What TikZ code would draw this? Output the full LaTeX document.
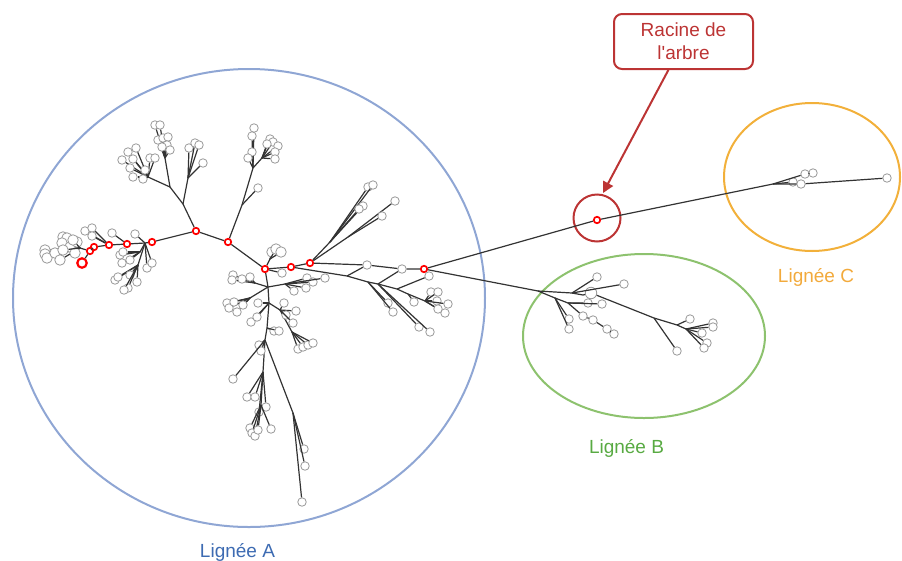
\documentclass[tikz,border=0pt]{standalone}
\usepackage{fontspec}
\setmainfont{Liberation Sans}
\usetikzlibrary{arrows.meta,positioning}
\definecolor{ringA}{RGB}{143,166,212}
\definecolor{textA}{RGB}{61,107,178}
\definecolor{ringB}{RGB}{141,194,110}
\definecolor{textB}{RGB}{88,170,66}
\definecolor{ringC}{RGB}{242,176,58}
\definecolor{textC}{RGB}{242,170,60}
\definecolor{rootred}{RGB}{188,52,52}
\begin{document}
\begin{tikzpicture}[x=1pt,y=-1pt,
  leaf/.style={circle,draw=black!40,fill=white,line width=.8pt,inner sep=0pt,minimum size=8.5pt},
  bigleaf/.style={leaf,minimum size=10.5pt},
  hit/.style={circle,draw=red,fill=white,line width=1.7pt,inner sep=0pt,minimum size=6.5pt},
  edge/.style={draw=black!80,line width=1.2pt},
  ring/.style={circle,draw=rootred,line width=2pt,inner sep=0pt,minimum size=47pt},
  lbl/.style={font=\fontsize{19}{23}\selectfont,anchor=base}]
\useasboundingbox (0,0) rectangle (902,560);
\draw[line width=2pt,ringA] (249,298) ellipse [x radius=236,y radius=229];
\draw[line width=2pt,ringB] (644,336) ellipse [x radius=121,y radius=82];
\draw[line width=2pt,ringC] (812,177) ellipse [x radius=88,y radius=74];
\node[lbl,text=textA] (labA) at (237.5,557) {Lignée A};
\node[lbl,text=textB] (labB) at (626.5,453) {Lignée B};
\node[lbl,text=textC] (labC) at (816,282) {Lignée C};
\node[hit] (root) at (597,220) {};
\node[ring] (rootring) at (597,218) {};
\node[draw=rootred,line width=2pt,rounded corners=8pt,minimum width=139pt,minimum height=55pt,
  align=center,text=rootred,font=\fontsize{19}{23}\selectfont] (callout) at (683.5,41.5) {Racine de\\l\textquotesingle arbre};
\coordinate (tip) at (603,193);
\draw[rootred,line width=2pt,-{Triangle[length=11pt,width=11pt]}] (callout) -- (tip);
\node[hit] (r1) at (424,269) {};
\node[hit] (r2) at (310,263) {};
\node[hit] (r3) at (291,267) {};
\node[hit] (r4) at (265,269) {};
\node[hit] (r5) at (228,242) {};
\node[hit] (r6) at (196,231) {};
\node[hit] (r7) at (152,242) {};
\node[hit] (r8) at (127,244) {};
\node[hit] (r9) at (109,245) {};
\node[hit] (r10) at (94,247) {};
\node[hit] (r11) at (90,251) {};
\node[hit,minimum size=9.5pt,line width=2.2pt] (r12) at (82,263) {};
\node[leaf] (a1) at (402,269) {};
\node[leaf] (a2) at (367,265) {};
\coordinate (k0) at (145,243);
\draw[edge] (root) -- (r1) -- (a1) -- (a2) -- (r2) -- (r3) -- (r4) -- (r5) -- (r6) -- (r7) -- (k0) -- (r8) -- (r9) -- (r10) -- (r11) -- (r12);
\coordinate (c0) at (773,184);
\node[leaf] (c1) at (793,182) {};
\node[leaf] (c2) at (801,184) {};
\node[leaf] (c3) at (805,174) {};
\node[leaf] (c4) at (813,173) {};
\node[leaf] (c5) at (887,178) {};
\draw[edge] (root) -- (c0) -- (c1);
\draw[edge] (c0) -- (c3) -- (c4);
\draw[edge] (c0) -- (c2) -- (c5);
\coordinate (b0) at (538,291);
\coordinate (b1) at (572,293);
\coordinate (b3) at (583,295);
\coordinate (b6) at (555,298);
\coordinate (b9) at (568,303);
\coordinate (b17) at (654,318);
\coordinate (b19) at (677,325);
\coordinate (b21) at (686,329);
\node[leaf] (b2) at (597,277) {};
\node[bigleaf,minimum size=11.5pt] (b4) at (591,293) {};
\node[leaf] (b5) at (624,284) {};
\node[leaf] (b7) at (569,319) {};
\node[leaf] (b8) at (569,329) {};
\node[leaf] (b10) at (588,303) {};
\node[leaf] (b11) at (602,304) {};
\node[leaf] (b13) at (583,316) {};
\node[leaf] (b14) at (593,320) {};
\node[leaf] (b15) at (607,329) {};
\node[leaf] (b16) at (614,334) {};
\node[leaf] (b18) at (677,351) {};
\node[leaf] (b20) at (690,319) {};
\draw[edge] (r1) -- (b0) -- (b1) -- (b3) -- (b4) -- (b17) -- (b19) -- (b21);
\draw[edge] (b1) -- (b2);
\draw[edge] (b1) -- (b5);
\draw[edge] (b0) -- (b6) -- (b7);
\draw[edge] (b6) -- (b8);
\draw[edge] (b6) -- (b9) -- (b10);
\draw[edge] (b9) -- (b11);
\draw[edge] (b9) -- (b13) -- (b14) -- (b15) -- (b16);
\draw[edge] (b17) -- (b18);
\draw[edge] (b19) -- (b20);
\foreach \x/\y [count=\i] in {713/323,713/327,702/333,707/343,704/348}
  {\node[leaf] (bl\i) at (\x,\y) {}; \draw[edge] (b21) -- (bl\i);}
\coordinate (a3) at (347,276);
\coordinate (a4) at (368,282);
\coordinate (a5) at (378,284);
\coordinate (a6) at (397,289);
\coordinate (a12) at (408,294);
\coordinate (a13) at (425,301);
\coordinate (a14) at (330,242);
\coordinate (a15) at (348,237);
\coordinate (a16) at (270,259);
\node[leaf] (a7) at (429,276) {};
\draw[edge] (r3) -- (a3) -- (a4) -- (a5) -- (a6) -- (a7);
\draw[edge] (a3) -- (a2);
\draw[edge] (a5) -- (a1);
\draw[edge] (a6) -- (a12) -- (a13);
\draw[edge] (r2) -- (a14);
\draw[edge] (r2) -- (a15);
\draw[edge] (r4) -- (a16);
\foreach \x/\y [count=\i] in {388/303,393/312}
  {\node[leaf] (a4l\i) at (\x,\y) {}; \draw[edge] (a4) -- (a4l\i);}
\foreach \x/\y [count=\i] in {419/327,430/332}
  {\node[leaf] (a5l\i) at (\x,\y) {}; \draw[edge] (a5) -- (a5l\i);}
\foreach \x/\y [count=\i] in {414/302}
  {\node[leaf] (a12l\i) at (\x,\y) {}; \draw[edge] (a12) -- (a12l\i);}
\foreach \x/\y [count=\i] in {431/292,438/292,437/301,448/304,445/313,438/309}
  {\node[leaf] (a13l\i) at (\x,\y) {}; \draw[edge] (a13) -- (a13l\i);}
\foreach \x/\y [count=\i] in {368/187,373/185,363/206,359/209}
  {\node[leaf] (a14l\i) at (\x,\y) {}; \draw[edge] (a14) -- (a14l\i);}
\foreach \x/\y [count=\i] in {395/201,382/216}
  {\node[leaf] (a15l\i) at (\x,\y) {}; \draw[edge] (a15) -- (a15l\i);}
\foreach \x/\y [count=\i] in {272/252,276/249,281/252}
  {\node[bigleaf] (a16l\i) at (\x,\y) {}; \draw[edge] (a16) -- (a16l\i);}
\node[leaf] (a17) at (282,273) {};
\draw[edge] (r4) -- (a17);
\coordinate (h0) at (268,287);
\coordinate (h1) at (255,283);
\coordinate (h2) at (250,298);
\coordinate (h3) at (285,284);
\coordinate (h4) at (269,303);
\coordinate (h6) at (280,310);
\coordinate (h7) at (292,332);
\coordinate (h8) at (267,328);
\coordinate (h9) at (265,340);
\coordinate (h10) at (263,372);
\coordinate (h11) at (261,405);
\coordinate (h12) at (288,400);
\coordinate (h13) at (293,413);
\draw[edge] (r4) -- (h0) -- (h4) -- (h8) -- (h9) -- (h10) -- (h11);
\draw[edge] (h0) -- (h1);
\draw[edge] (h0) -- (h2);
\draw[edge] (h0) -- (h3);
\draw[edge] (h4) -- (h6) -- (h7);
\draw[edge] (h9) -- (h12) -- (h13);
\foreach \x/\y [count=\i] in {233/275,232/280,242/279,250/277}
  {\node[leaf] (h1l\i) at (\x,\y) {}; \draw[edge] (h1) -- (h1l\i);}
\foreach \x/\y [count=\i] in {227/303,229/308,237/312,243/305,234/302}
  {\node[leaf] (h2l\i) at (\x,\y) {}; \draw[edge] (h2) -- (h2l\i);}
\foreach \x/\y [count=\i] in {307/278,313/282,325/278,306/288,294/291}
  {\node[leaf] (h3l\i) at (\x,\y) {}; \draw[edge] (h3) -- (h3l\i);}
\foreach \x/\y [count=\i] in {258/303,251/322,257/317}
  {\node[leaf] (h4l\i) at (\x,\y) {}; \draw[edge] (h4) -- (h4l\i);}
\foreach \x/\y [count=\i] in {284/303,296/311,286/315,293/323}
  {\node[leaf] (h6l\i) at (\x,\y) {}; \draw[edge] (h6) -- (h6l\i);}
\foreach \x/\y [count=\i] in {298/349,303/347,308/345,313/343}
  {\node[leaf] (h7l\i) at (\x,\y) {}; \draw[edge] (h7) -- (h7l\i);}
\foreach \x/\y [count=\i] in {274/331,279/331}
  {\node[leaf] (h8l\i) at (\x,\y) {}; \draw[edge] (h8) -- (h8l\i);}
\foreach \x/\y [count=\i] in {259/345,261/351,233/379}
  {\node[leaf] (h9l\i) at (\x,\y) {}; \draw[edge] (h9) -- (h9l\i);}
\foreach \x/\y [count=\i] in {247/397,255/397,266/407,259/412}
  {\node[leaf] (h10l\i) at (\x,\y) {}; \draw[edge] (h10) -- (h10l\i);}
\foreach \x/\y [count=\i] in {250/428,252/433,255/436,258/430,271/429}
  {\node[leaf] (h11l\i) at (\x,\y) {}; \draw[edge] (h11) -- (h11l\i);}
\foreach \x/\y [count=\i] in {304/449,305/466,302/502}
  {\node[leaf] (h13l\i) at (\x,\y) {}; \draw[edge] (h13) -- (h13l\i);}
\coordinate (u0) at (242,205);
\coordinate (u2) at (253,168);
\coordinate (u3) at (262,158);
\draw[edge] (r5) -- (u0) -- (u2) -- (u3);
\foreach \x/\y [count=\i] in {258/188}
  {\node[leaf] (u0l\i) at (\x,\y) {}; \draw[edge] (u0) -- (u0l\i);}
\foreach \x/\y [count=\i] in {254/128,252/136,252/152,248/158}
  {\node[leaf] (u2l\i) at (\x,\y) {}; \draw[edge] (u2) -- (u2l\i);}
\foreach \x/\y [count=\i] in {270/139,273/142,278/146,275/152,275/159,267/144}
  {\node[leaf] (u3l\i) at (\x,\y) {}; \draw[edge] (u3) -- (u3l\i);}
\coordinate (v0) at (183,204);
\coordinate (v1) at (170,187);
\coordinate (v2) at (165,158);
\coordinate (v3) at (148,177);
\coordinate (v4) at (188,178);
\draw[edge] (r6) -- (v0) -- (v1) -- (v2);
\draw[edge] (v1) -- (v3);
\draw[edge] (v0) -- (v4);
\foreach \x/\y [count=\i] in {155/125,160/125,158/140,163/138,168/137,167/145,170/150,162/147}
  {\node[leaf] (v2l\i) at (\x,\y) {}; \draw[edge] (v2) -- (v2l\i);}
\foreach \x/\y [count=\i] in {122/160,128/152,136/148,133/159,130/168,133/177,143/179,150/158,155/158,145/170}
  {\node[leaf] (v3l\i) at (\x,\y) {}; \draw[edge] (v3) -- (v3l\i);}
\foreach \x/\y [count=\i] in {189/148,195/143,199/145,203/163}
  {\node[leaf] (v4l\i) at (\x,\y) {}; \draw[edge] (v4) -- (v4l\i);}
\coordinate (k1) at (140,252);
\coordinate (k3) at (138,265);
\coordinate (k4) at (80,248);
\draw[edge] (k0) -- (k1);
\draw[edge] (k0) -- (k3);
\draw[edge] (r11) -- (k4);
\foreach \x/\y [count=\i] in {120/255,123/252,122/263,130/260}
  {\node[leaf] (k1l\i) at (\x,\y) {}; \draw[edge] (k1) -- (k1l\i);}
\foreach \x/\y [count=\i] in {147/268,152/263,135/234}
  {\node[leaf] (k0l\i) at (\x,\y) {}; \draw[edge] (k0) -- (k0l\i);}
\foreach \x/\y [count=\i] in {115/280,118/277,130/275,137/282,128/288,124/290}
  {\node[leaf] (k3l\i) at (\x,\y) {}; \draw[edge] (k3) -- (k3l\i);}
\node[leaf] (r8l) at (112,233) {};
\draw[edge] (r8) -- (r8l);
\foreach \x/\y [count=\i] in {85/231,92/228,92/236}
  {\node[leaf] (r9l\i) at (\x,\y) {}; \draw[edge] (r9) -- (r9l\i);}
\foreach \x/\y [count=\i] in {45/250,45/254,47/258,55/253,60/260,63/237,67/238,62/243,70/247,75/253,77/242,63/250,73/240}
  {\node[bigleaf] (k4l\i) at (\x,\y) {}; \draw[edge] (k4) -- (k4l\i);}
\end{tikzpicture}
\end{document}
